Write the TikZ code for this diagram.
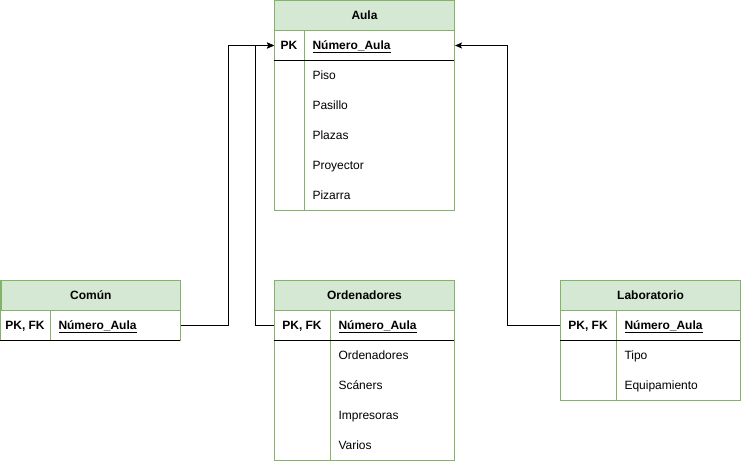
\documentclass[tikz,border=0pt]{standalone}
\usepackage{fontspec}
\setmainfont{Liberation Sans}
\usetikzlibrary{arrows.meta}
\definecolor{hdrfill}{HTML}{D5E8D4}
\definecolor{grn}{HTML}{82B366}
\begin{document}
\begin{tikzpicture}[x=1pt,y=-1pt,line width=1pt,
  font=\fontsize{12}{14}\selectfont,
  hdr/.style={draw=grn, fill=hdrfill, minimum width=180pt, minimum height=30pt, inner sep=0pt, anchor=north west, text height=8.6pt, text depth=0pt, font=\fontsize{12}{14}\selectfont\bfseries},
  pkrow/.style={minimum width=180pt, minimum height=30pt, inner sep=0pt, anchor=north west},
  keytxt/.style={font=\fontsize{12}{14}\selectfont\bfseries, inner sep=0pt, anchor=base},
  fld/.style={anchor=base west, inner sep=0pt},
  keyfld/.style={fld, font=\fontsize{12}{14}\selectfont\bfseries},
  outline/.style={draw=grn},
  sep/.style={draw=black},
  conn/.style={draw=black, -{Stealth[length=7pt,width=6pt,inset=1.5pt]}}
]
\useasboundingbox (0,0) rectangle (741,461);

% ---------- Aula ----------
\draw[outline] (274,0) rectangle (454,210);
\draw[outline] (304,30) -- (304,210);
\node[hdr] (aula) at (274,0) {Aula};
\node[pkrow] (aulapk) at (274,30) {};
\draw[sep] (274,60) -- (454,60);
\node[keytxt] (aulak) at (289,49.3) {PK};
\node[keyfld] (aulaf0) at (312,49.3) {\underline{Número\_Aula}};
\node[fld] (aulaf1) at (312,79.3) {Piso};
\node[fld] (aulaf2) at (312,109.3) {Pasillo};
\node[fld] (aulaf3) at (312,139.3) {Plazas};
\node[fld] (aulaf4) at (312,169.3) {Proyector};
\node[fld] (aulaf5) at (312,199.3) {Pizarra};

% ---------- Común ----------
\draw[outline] (0.5,280) rectangle (180,340);
\draw[outline] (50,310) -- (50,340);
\node[hdr, minimum width=179.5pt] (comun) at (0.5,280) {Común};
\node[pkrow] (comunpk) at (0,310) {};
\draw[sep] (0,340) -- (180,340);
\node[keytxt] (comunk) at (25,329.3) {PK, FK};
\node[keyfld] (comunf0) at (58,329.3) {\underline{Número\_Aula}};

% ---------- Ordenadores ----------
\draw[outline] (274,280) rectangle (454,460);
\draw[outline] (330,310) -- (330,460);
\node[hdr] (orden) at (274,280) {Ordenadores};
\node[pkrow] (ordpk) at (274,310) {};
\draw[sep] (274,340) -- (454,340);
\node[keytxt] (ordk) at (302,329.3) {PK, FK};
\node[keyfld] (ordf0) at (338,329.3) {\underline{Número\_Aula}};
\node[fld] (ordf1) at (338,359.3) {Ordenadores};
\node[fld] (ordf2) at (338,389.3) {Scáners};
\node[fld] (ordf3) at (338,419.3) {Impresoras};
\node[fld] (ordf4) at (338,449.3) {Varios};

% ---------- Laboratorio ----------
\draw[outline] (560,280) rectangle (740,400);
\draw[outline] (616,310) -- (616,400);
\node[hdr] (lab) at (560,280) {Laboratorio};
\node[pkrow] (labpk) at (560,310) {};
\draw[sep] (560,340) -- (740,340);
\node[keytxt] (labk) at (588,329.3) {PK, FK};
\node[keyfld] (labf0) at (624,329.3) {\underline{Número\_Aula}};
\node[fld] (labf1) at (624,359.3) {Tipo};
\node[fld] (labf2) at (624,389.3) {Equipamiento};

% ---------- connectors ----------
\draw[conn] (comunpk.east) -- ++(47.5,0) |- (aulapk.west);
\draw[conn] (ordpk.west) -- ++(-18.5,0) |- (aulapk.west);
\draw[conn] (labpk.west) -- ++(-52.5,0) |- (aulapk.east);
\end{tikzpicture}
\end{document}
